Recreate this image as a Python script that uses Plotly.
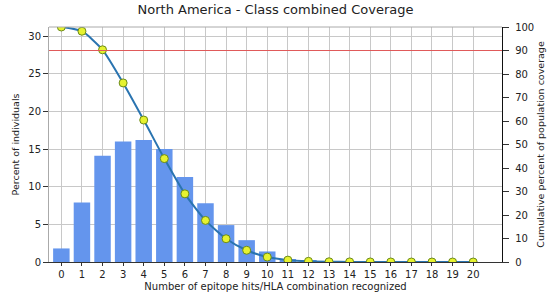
import plotly.graph_objects as go

hits = list(range(21))
tick_labels = [str(i) for i in hits]
percent_individuals = [1.8, 7.9, 14.1, 16.0, 16.2, 15.0, 11.3, 7.8, 4.9, 2.9, 1.4, 0.4, 0.2, 0.05, 0.03, 0.02, 0.01, 0.0, 0.0, 0.0, 0.0]
cumulative_coverage = [100.0, 98.2, 90.3, 76.2, 60.4, 44.0, 29.0, 17.7, 9.9, 5.0, 2.1, 0.8, 0.3, 0.1, 0.05, 0.02, 0.01, 0.0, 0.0, 0.0, 0.0]
threshold = 90

FONT = "DejaVu Sans"

fig = go.Figure()
fig.add_trace(go.Bar(
    x=hits, y=percent_individuals, width=0.8,
    marker=dict(color="#6495ED", line=dict(width=0)),
    yaxis="y", showlegend=False,
))
fig.add_trace(go.Scatter(
    x=hits, y=cumulative_coverage, mode="lines+markers",
    line=dict(color="#2a74b0", width=2, shape="spline", smoothing=0.6),
    marker=dict(color="#e6f230", size=8, line=dict(color="#6b8a1a", width=1)),
    yaxis="y2", showlegend=False,
))

fig.add_shape(type="line", xref="paper", x0=0, x1=1, yref="y2", y0=threshold, y1=threshold,
              line=dict(color="#e05a5a", width=1))

fig.update_layout(
    width=551, height=298,
    margin=dict(l=49, r=49, t=27, b=36),
    paper_bgcolor="white", plot_bgcolor="white",
    font=dict(family=FONT, size=10, color="#222"),
    title=dict(text="North America - Class combined Coverage", x=0.5, xanchor="center",
               y=0.985, yanchor="top", font=dict(size=13, family=FONT, color="#222")),
    bargap=0.2,
    xaxis=dict(
        range=[-0.6, 21.4], tickmode="array", tickvals=hits, ticktext=tick_labels,
        showgrid=True, gridcolor="#c8c8c8", gridwidth=1,
        showline=True, linecolor="#333", linewidth=1, mirror=False,
        ticks="outside", ticklen=3, tickcolor="#333",
        tickfont=dict(size=10, family=FONT),
        title=dict(text="Number of epitope hits/HLA combination recognized", standoff=3,
                   font=dict(size=10, family=FONT)),
        zeroline=False, automargin=False,
    ),
    yaxis=dict(
        range=[0, 31.2], tickmode="linear", dtick=5, tick0=0,
        showgrid=True, gridcolor="#c8c8c8", gridwidth=1,
        showline=True, linecolor="#aaa", linewidth=1,
        ticks="outside", ticklen=5, tickcolor="#333",
        tickfont=dict(size=10, family=FONT),
        title=dict(text="Percent of individuals", standoff=6, font=dict(size=9.5, family=FONT)),
        zeroline=False, automargin=False,
    ),
    yaxis2=dict(
        range=[0, 100], overlaying="y", side="right", tickmode="linear", dtick=10, tick0=0,
        showgrid=False, showline=True, linecolor="#111", linewidth=1.3,
        ticks="outside", ticklen=6, tickcolor="#333",
        tickfont=dict(size=10, family=FONT), ticklabelstandoff=4,
        title=dict(text="Cumulative percent of population coverage", standoff=4,
                   font=dict(size=9.5, family=FONT)),
        zeroline=False, automargin=False,
    ),
)

fig.add_shape(type="line", xref="paper", x0=0, x1=1, yref="paper", y0=1, y1=1,
              line=dict(color="#aaa", width=1))

fig.write_html("out.html", config={"displayModeBar": False},
               post_script="document.body.style.margin='0';")
